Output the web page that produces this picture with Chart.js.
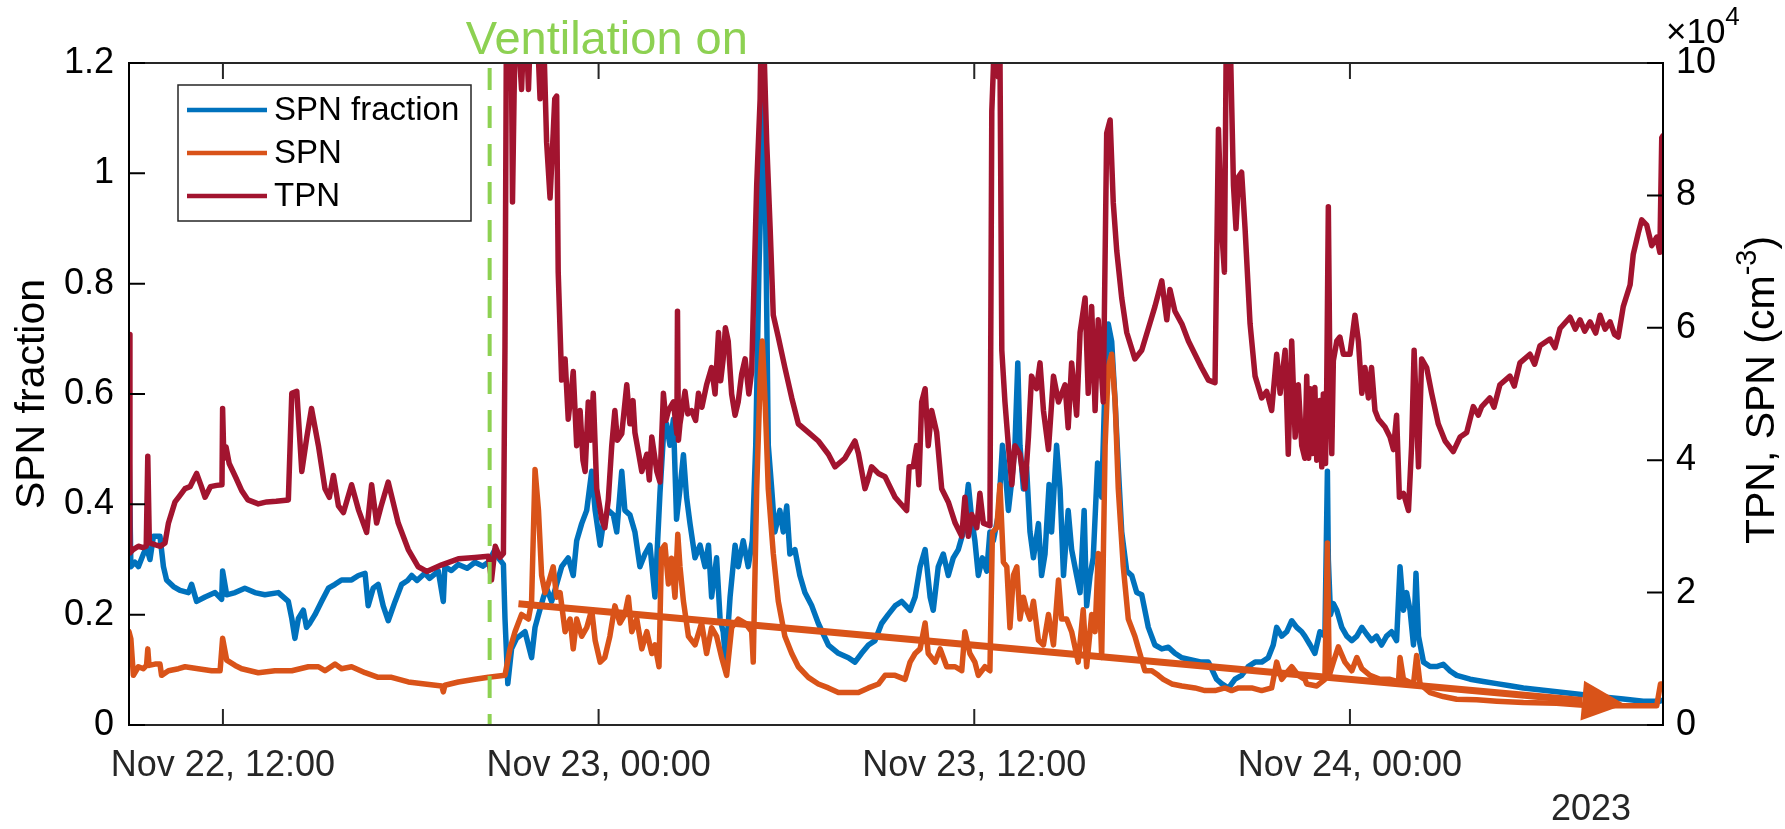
<!DOCTYPE html>
<html>
<head>
<meta charset="utf-8">
<script src="https://cdn.jsdelivr.net/npm/chart.js@4.4.1/dist/chart.umd.min.js"></script>
<style>
  html, body { margin: 0; padding: 0; background: #fff; }
  #wrap { width: 1785px; height: 829px; }
</style>
</head>
<body>
<div id="wrap"><canvas id="grafico" width="1785" height="829"></canvas></div>
<script>
// hours counted from Nov 22, 00:00
var xMin = 9, xMax = 58;
var tickHours = [12, 24, 36, 48];
var tickLabels = ['Nov 22, 12:00', 'Nov 23, 00:00', 'Nov 23, 12:00', 'Nov 24, 00:00'];
var yearLabel = '2023';
var ventHour = 20.52;
var ventLabel = 'Ventilation on';
// trend arrow, [hour, TPN/SPN in 1e4 cm-3]
var arrowStart = [21.44, 1.83];
var arrowEnd = [56.79, 0.31];

// SPN fraction (left axis)
var spnFraction = [
  [9.0, 0.507], [9.06, 0.287], [9.19, 0.295], [9.3, 0.287], [9.46, 0.31], [9.56, 0.322], [9.67, 0.3],
  [9.78, 0.342], [9.99, 0.342], [10.1, 0.287], [10.2, 0.263], [10.42, 0.251], [10.63, 0.244], [10.9, 0.24],
  [11.0, 0.255], [11.16, 0.224], [11.43, 0.232], [11.75, 0.24], [11.96, 0.228], [11.99, 0.279], [12.12, 0.236],
  [12.39, 0.24], [12.7, 0.248], [13.02, 0.24], [13.34, 0.236], [13.77, 0.24], [14.09, 0.224], [14.2, 0.193],
  [14.3, 0.157], [14.41, 0.193], [14.57, 0.208], [14.67, 0.177], [14.78, 0.185], [14.94, 0.2], [15.15, 0.224],
  [15.37, 0.248], [15.58, 0.255], [15.79, 0.263], [16.11, 0.263], [16.33, 0.271], [16.54, 0.275], [16.64, 0.216],
  [16.8, 0.248], [16.96, 0.255], [17.12, 0.216], [17.28, 0.189], [17.5, 0.224], [17.71, 0.255], [17.9, 0.262],
  [18.03, 0.271], [18.2, 0.262], [18.45, 0.275], [18.6, 0.266], [18.88, 0.279], [19.04, 0.224], [19.09, 0.287],
  [19.3, 0.28], [19.52, 0.291], [19.8, 0.284], [20.05, 0.295], [20.3, 0.288], [20.48, 0.295], [20.69, 0.318],
  [20.8, 0.303], [20.96, 0.291], [21.01, 0.193], [21.1, 0.075], [21.22, 0.138], [21.38, 0.157], [21.65, 0.169],
  [21.86, 0.122], [21.97, 0.177], [22.08, 0.2], [22.24, 0.232], [22.34, 0.248], [22.5, 0.224], [22.66, 0.255],
  [22.82, 0.287], [23.03, 0.303], [23.19, 0.271], [23.3, 0.334], [23.46, 0.365], [23.62, 0.389], [23.78, 0.46],
  [23.89, 0.389], [24.05, 0.326], [24.15, 0.365], [24.31, 0.389], [24.47, 0.381], [24.58, 0.35], [24.74, 0.46],
  [24.84, 0.389], [25.0, 0.381], [25.16, 0.35], [25.32, 0.287], [25.48, 0.31], [25.64, 0.326], [25.8, 0.232],
  [25.96, 0.42], [26.07, 0.523], [26.17, 0.546], [26.28, 0.507], [26.39, 0.554], [26.49, 0.373], [26.6, 0.428],
  [26.71, 0.49], [26.81, 0.413], [26.92, 0.365], [27.08, 0.303], [27.24, 0.326], [27.4, 0.287], [27.51, 0.326],
  [27.61, 0.232], [27.77, 0.303], [27.88, 0.193], [27.98, 0.169], [28.06, 0.114], [28.2, 0.232], [28.36, 0.326],
  [28.46, 0.287], [28.62, 0.334], [28.78, 0.287], [28.91, 0.334], [29.02, 0.507], [29.12, 0.821], [29.23, 1.057],
  [29.28, 1.152], [29.34, 0.9], [29.42, 0.507], [29.53, 0.428], [29.63, 0.35], [29.79, 0.389], [29.9, 0.35],
  [30.01, 0.397], [30.11, 0.31], [30.27, 0.318], [30.43, 0.271], [30.59, 0.24], [30.81, 0.216], [31.02, 0.184],
  [31.34, 0.145], [31.66, 0.13], [31.98, 0.122], [32.19, 0.114], [32.4, 0.13], [32.62, 0.145], [32.83, 0.153],
  [33.04, 0.184], [33.25, 0.2], [33.47, 0.216], [33.68, 0.224], [33.95, 0.208], [34.11, 0.232], [34.27, 0.287],
  [34.43, 0.318], [34.59, 0.232], [34.69, 0.208], [34.85, 0.287], [35.01, 0.31], [35.17, 0.271], [35.33, 0.303],
  [35.49, 0.318], [35.65, 0.35], [35.81, 0.436], [35.92, 0.373], [36.02, 0.334], [36.13, 0.271], [36.26, 0.303],
  [36.4, 0.279], [36.5, 0.35], [36.61, 0.334], [36.77, 0.381], [36.9, 0.507], [36.98, 0.468], [37.09, 0.389],
  [37.2, 0.444], [37.3, 0.507], [37.39, 0.656], [37.46, 0.507], [37.57, 0.428], [37.67, 0.468], [37.78, 0.35],
  [37.89, 0.303], [38.05, 0.365], [38.15, 0.271], [38.26, 0.31], [38.39, 0.436], [38.47, 0.35], [38.63, 0.507],
  [38.74, 0.428], [38.85, 0.271], [39.0, 0.389], [39.11, 0.318], [39.27, 0.271], [39.38, 0.24], [39.51, 0.389],
  [39.59, 0.216], [39.7, 0.271], [39.8, 0.303], [39.94, 0.475], [40.07, 0.413], [40.18, 0.625], [40.28, 0.727],
  [40.39, 0.695], [40.5, 0.585], [40.6, 0.468], [40.71, 0.35], [40.87, 0.279], [41.03, 0.271], [41.19, 0.24],
  [41.35, 0.236], [41.56, 0.177], [41.77, 0.145], [41.99, 0.138], [42.2, 0.141], [42.41, 0.13], [42.63, 0.122],
  [42.94, 0.118], [43.26, 0.114], [43.48, 0.114], [43.74, 0.083], [43.9, 0.075], [44.12, 0.067], [44.33, 0.083],
  [44.54, 0.09], [44.75, 0.106], [44.97, 0.114], [45.18, 0.114], [45.39, 0.122], [45.55, 0.145], [45.66, 0.177],
  [45.82, 0.161], [45.98, 0.169], [46.14, 0.189], [46.3, 0.177], [46.46, 0.169], [46.56, 0.161], [46.73, 0.145],
  [46.88, 0.13], [47.04, 0.169], [47.2, 0.161], [47.28, 0.46], [47.31, 0.3], [47.38, 0.2], [47.47, 0.22],
  [47.58, 0.208], [47.74, 0.177], [47.9, 0.161], [48.06, 0.153], [48.22, 0.161], [48.38, 0.177], [48.53, 0.165],
  [48.69, 0.153], [48.85, 0.161], [49.01, 0.145], [49.17, 0.161], [49.33, 0.169], [49.49, 0.153], [49.6, 0.287],
  [49.71, 0.208], [49.81, 0.24], [49.92, 0.208], [50.03, 0.145], [50.11, 0.275], [50.19, 0.161], [50.35, 0.114],
  [50.56, 0.106], [50.77, 0.106], [50.98, 0.11], [51.2, 0.098], [51.41, 0.09], [51.84, 0.083], [52.26, 0.079],
  [52.69, 0.075], [53.11, 0.071], [53.54, 0.067], [54.18, 0.063], [54.82, 0.059], [55.46, 0.055], [56.09, 0.051],
  [56.73, 0.047], [57.37, 0.043], [57.9, 0.043], [58.0, 0.045]
];

// SPN (right axis, 1e4 cm-3)
var spn = [
  [9.0, 1.41], [9.06, 1.3], [9.14, 0.75], [9.3, 0.88], [9.46, 0.85], [9.56, 0.9], [9.6, 1.15], [9.64, 0.9],
  [9.83, 0.92], [9.99, 0.92], [10.04, 0.75], [10.26, 0.82], [10.58, 0.85], [10.79, 0.88], [11.21, 0.85],
  [11.64, 0.82], [11.91, 0.82], [11.99, 1.31], [12.12, 0.98], [12.39, 0.9], [12.6, 0.85], [13.13, 0.79],
  [13.66, 0.82], [14.2, 0.82], [14.73, 0.88], [15.05, 0.88], [15.26, 0.82], [15.58, 0.92], [15.79, 0.85],
  [16.11, 0.88], [16.54, 0.79], [16.96, 0.72], [17.39, 0.72], [17.92, 0.65], [18.45, 0.62], [18.99, 0.59],
  [19.04, 0.5], [19.09, 0.6], [19.52, 0.65], [20.05, 0.69], [20.48, 0.72], [21.01, 0.75], [21.17, 1.15],
  [21.33, 1.41], [21.54, 1.67], [21.76, 1.6], [21.86, 1.87], [21.97, 3.86], [22.08, 3.24], [22.18, 2.26],
  [22.29, 2.0], [22.39, 2.13], [22.55, 2.39], [22.66, 1.93], [22.77, 2.0], [22.93, 1.41], [23.09, 1.6],
  [23.19, 1.15], [23.3, 1.6], [23.46, 1.34], [23.62, 1.47], [23.78, 1.74], [23.89, 1.28], [24.05, 0.95],
  [24.2, 1.02], [24.36, 1.34], [24.52, 1.8], [24.68, 1.54], [24.84, 1.67], [24.95, 1.93], [25.06, 1.41],
  [25.22, 1.6], [25.38, 1.15], [25.54, 1.41], [25.7, 1.08], [25.8, 1.21], [25.93, 0.88], [26.01, 2.65],
  [26.12, 2.72], [26.23, 2.13], [26.33, 2.52], [26.44, 1.93], [26.53, 2.88], [26.6, 2.39], [26.71, 1.87],
  [26.87, 1.34], [27.08, 1.21], [27.29, 1.54], [27.45, 1.08], [27.61, 1.47], [27.77, 1.34], [27.93, 1.02],
  [28.09, 0.75], [28.25, 1.47], [28.46, 1.6], [28.68, 1.54], [28.89, 1.41], [28.94, 0.95], [29.05, 3.57],
  [29.16, 5.21], [29.23, 5.8], [29.32, 4.88], [29.42, 3.57], [29.58, 2.59], [29.74, 1.87], [29.95, 1.34],
  [30.17, 1.08], [30.38, 0.88], [30.7, 0.72], [31.02, 0.62], [31.34, 0.56], [31.66, 0.49], [31.98, 0.49],
  [32.3, 0.49], [32.62, 0.56], [32.94, 0.62], [33.15, 0.75], [33.47, 0.75], [33.79, 0.69], [33.95, 0.95],
  [34.11, 1.08], [34.27, 1.15], [34.43, 1.54], [34.53, 1.08], [34.75, 0.95], [34.91, 1.15], [35.12, 0.88],
  [35.39, 0.88], [35.6, 0.82], [35.7, 1.41], [35.86, 1.08], [36.02, 0.95], [36.13, 0.75], [36.34, 0.88],
  [36.5, 0.82], [36.58, 2.91], [36.72, 2.98], [36.82, 3.63], [36.93, 2.46], [37.04, 2.39], [37.14, 1.47],
  [37.25, 2.26], [37.36, 2.39], [37.46, 1.6], [37.57, 1.93], [37.67, 1.74], [37.78, 1.6], [37.89, 1.87],
  [38.05, 1.28], [38.21, 1.21], [38.37, 1.67], [38.53, 1.21], [38.69, 2.19], [38.79, 1.6], [38.95, 1.6],
  [39.11, 1.41], [39.32, 0.95], [39.48, 1.74], [39.59, 0.88], [39.75, 1.67], [39.86, 1.41], [39.96, 2.59],
  [40.07, 1.02], [40.18, 4.22], [40.28, 5.4], [40.39, 5.6], [40.5, 4.88], [40.6, 3.57], [40.76, 2.39],
  [40.92, 1.6], [41.13, 1.34], [41.29, 1.08], [41.45, 0.82], [41.67, 0.82], [41.88, 0.75], [42.04, 0.69],
  [42.31, 0.62], [42.63, 0.59], [43.05, 0.56], [43.37, 0.52], [43.69, 0.52], [44.01, 0.56], [44.22, 0.52],
  [44.44, 0.56], [44.86, 0.56], [45.18, 0.52], [45.5, 0.56], [45.66, 0.95], [45.82, 0.69], [46.03, 0.82],
  [46.14, 0.88], [46.35, 0.75], [46.56, 0.69], [46.62, 0.62], [46.94, 0.59], [47.2, 0.69], [47.28, 2.75],
  [47.34, 0.75], [47.47, 0.95], [47.63, 1.18], [47.84, 0.95], [48.06, 0.82], [48.22, 1.02], [48.38, 0.85],
  [48.64, 0.75], [48.96, 0.69], [49.28, 0.69], [49.55, 0.65], [49.6, 1.02], [49.71, 0.69], [50.03, 0.62],
  [50.13, 1.05], [50.24, 0.62], [50.56, 0.49], [50.98, 0.43], [51.41, 0.39], [52.05, 0.38], [52.69, 0.36],
  [53.54, 0.34], [54.6, 0.33], [55.67, 0.29], [56.73, 0.29], [57.8, 0.29], [57.92, 0.62], [58.0, 0.62]
];

// TPN (right axis, 1e4 cm-3)
var tpn = [
  [9.0, 5.9], [9.03, 2.6], [9.13, 2.65], [9.3, 2.7], [9.45, 2.68], [9.55, 2.7], [9.6, 4.06], [9.65, 2.75],
  [9.85, 2.72], [10.0, 2.7], [10.15, 2.75], [10.26, 3.05], [10.47, 3.37], [10.6, 3.45], [10.79, 3.57],
  [10.95, 3.6], [11.16, 3.8], [11.3, 3.62], [11.43, 3.44], [11.6, 3.6], [11.8, 3.62], [11.97, 3.63],
  [11.99, 4.78], [12.03, 4.03], [12.1, 4.2], [12.2, 3.95], [12.4, 3.75], [12.6, 3.54], [12.8, 3.4],
  [13.13, 3.34], [13.4, 3.37], [13.7, 3.38], [14.09, 3.4], [14.2, 5.01], [14.36, 5.04], [14.52, 3.83],
  [14.68, 4.35], [14.83, 4.78], [15.05, 4.22], [15.26, 3.57], [15.4, 3.44], [15.53, 3.77], [15.69, 3.31],
  [15.85, 3.21], [16.11, 3.63], [16.33, 3.25], [16.59, 2.91], [16.75, 3.63], [16.91, 3.05], [17.05, 3.3],
  [17.28, 3.67], [17.6, 3.05], [17.92, 2.65], [18.24, 2.39], [18.51, 2.32], [18.99, 2.42], [19.52, 2.51],
  [20.05, 2.53], [20.48, 2.55], [20.58, 2.19], [20.7, 2.7], [20.85, 2.53], [20.96, 2.59], [21.01, 5.73],
  [21.06, 11], [21.2, 11], [21.25, 7.9], [21.3, 9.5], [21.36, 11], [21.54, 9.6], [21.65, 11], [21.76, 9.6],
  [21.86, 11], [22.0, 11], [22.13, 9.46], [22.24, 10.5], [22.34, 8.8], [22.45, 7.96], [22.55, 8.94],
  [22.6, 9.46], [22.66, 9.5], [22.71, 6.84], [22.82, 5.21], [22.93, 5.53], [23.03, 4.62], [23.12, 5.0],
  [23.19, 5.34], [23.3, 4.22], [23.41, 4.75], [23.5, 4.0], [23.57, 3.83], [23.67, 4.88], [23.75, 4.3],
  [23.83, 5.01], [23.94, 3.57], [24.1, 3.11], [24.2, 2.98], [24.31, 3.4], [24.42, 4.22], [24.52, 4.75],
  [24.6, 4.3], [24.74, 4.4], [24.9, 5.14], [25.0, 4.55], [25.1, 4.9], [25.16, 4.42], [25.28, 4.1],
  [25.38, 3.83], [25.54, 4.09], [25.62, 3.7], [25.7, 4.35], [25.86, 3.83], [25.96, 3.67], [26.07, 5.01],
  [26.15, 4.6], [26.23, 4.75], [26.39, 4.88], [26.5, 4.4], [26.52, 6.25], [26.55, 4.3], [26.6, 4.55],
  [26.76, 5.04], [26.85, 4.7], [26.97, 4.75], [27.1, 4.6], [27.19, 5.01], [27.3, 4.8], [27.45, 5.14],
  [27.61, 5.4], [27.72, 5.0], [27.83, 5.93], [27.9, 5.2], [27.98, 5.53], [28.05, 6.0], [28.14, 5.8],
  [28.25, 5.0], [28.36, 4.68], [28.46, 4.88], [28.57, 5.3], [28.68, 5.53], [28.8, 5.0], [28.89, 5.34],
  [29.05, 8.15], [29.16, 9.46], [29.21, 11], [29.26, 10.6], [29.37, 8.8], [29.48, 7.5], [29.58, 6.19],
  [29.74, 5.86], [29.95, 5.4], [30.17, 4.94], [30.38, 4.55], [30.7, 4.42], [31.02, 4.29], [31.34, 4.09],
  [31.55, 3.9], [31.87, 4.03], [32.19, 4.29], [32.3, 4.1], [32.51, 3.57], [32.6, 3.7], [32.72, 3.9],
  [32.94, 3.8], [33.15, 3.75], [33.47, 3.44], [33.84, 3.24], [33.92, 3.9], [34.05, 3.9], [34.16, 4.22],
  [34.23, 3.63], [34.32, 4.88], [34.43, 5.08], [34.53, 4.22], [34.64, 4.75], [34.8, 4.42], [34.96, 3.57],
  [35.17, 3.37], [35.39, 3.05], [35.6, 2.85], [35.7, 3.44], [35.81, 2.85], [35.92, 3.18], [36.08, 2.98],
  [36.18, 3.5], [36.29, 3.05], [36.5, 3.01], [36.56, 9.27], [36.61, 9.92], [36.66, 11], [36.77, 9.79],
  [36.82, 10.2], [36.88, 5.66], [36.98, 4.88], [37.09, 4.22], [37.2, 3.63], [37.3, 4.22], [37.46, 4.09],
  [37.62, 3.57], [37.73, 4.35], [37.83, 5.27], [37.99, 5.08], [38.1, 5.47], [38.21, 4.75], [38.37, 4.16],
  [38.53, 5.27], [38.69, 4.88], [38.9, 5.14], [39.0, 4.49], [39.11, 5.47], [39.27, 4.68], [39.38, 5.93],
  [39.54, 6.45], [39.64, 5.01], [39.75, 6.32], [39.86, 4.75], [39.96, 6.12], [40.12, 4.88], [40.23, 8.94],
  [40.34, 9.14], [40.44, 7.89], [40.55, 7.17], [40.71, 6.45], [40.87, 5.93], [41.13, 5.53], [41.35, 5.66],
  [41.56, 5.99], [41.77, 6.32], [41.99, 6.71], [42.15, 6.12], [42.25, 6.58], [42.41, 6.25], [42.63, 6.06],
  [42.84, 5.8], [43.05, 5.6], [43.26, 5.4], [43.48, 5.21], [43.69, 5.17], [43.8, 9.0], [43.9, 7.5],
  [43.99, 6.84], [44.06, 11], [44.17, 10.5], [44.28, 8.15], [44.36, 7.5], [44.44, 8.28], [44.54, 8.35],
  [44.65, 7.5], [44.81, 6.06], [44.97, 5.27], [45.18, 4.94], [45.34, 5.04], [45.5, 4.75], [45.66, 5.6],
  [45.77, 5.01], [45.93, 5.66], [46.03, 4.09], [46.14, 5.8], [46.25, 4.35], [46.35, 5.14], [46.46, 4.22],
  [46.56, 4.03], [46.62, 5.27], [46.68, 4.03], [46.73, 5.08], [46.8, 4.1], [46.88, 5.1], [46.94, 4.0],
  [47.04, 4.9], [47.1, 3.9], [47.15, 5.0], [47.22, 3.95], [47.26, 5.2], [47.31, 7.83], [47.36, 5.27],
  [47.42, 4.1], [47.47, 5.5], [47.58, 5.8], [47.68, 5.86], [47.79, 5.6], [48.0, 5.6], [48.16, 6.19],
  [48.27, 5.8], [48.38, 5.01], [48.48, 5.4], [48.59, 4.94], [48.69, 5.4], [48.8, 4.75], [48.91, 4.62],
  [49.12, 4.5], [49.28, 4.35], [49.39, 4.16], [49.49, 4.68], [49.58, 3.44], [49.71, 3.5], [49.87, 3.24],
  [49.97, 4.22], [50.05, 5.66], [50.19, 3.9], [50.29, 5.53], [50.45, 5.4], [50.61, 5.01], [50.82, 4.55],
  [51.04, 4.29], [51.3, 4.13], [51.52, 4.35], [51.73, 4.42], [51.94, 4.81], [52.1, 4.68], [52.21, 4.81],
  [52.47, 4.94], [52.6, 4.8], [52.79, 5.14], [53.11, 5.27], [53.25, 5.12], [53.43, 5.47], [53.75, 5.6],
  [53.9, 5.45], [54.07, 5.73], [54.39, 5.83], [54.55, 5.7], [54.71, 5.99], [55.03, 6.16], [55.2, 5.98],
  [55.35, 6.12], [55.5, 5.95], [55.67, 6.09], [55.85, 5.92], [55.99, 6.19], [56.15, 5.98], [56.31, 6.09],
  [56.45, 5.9], [56.57, 5.86], [56.73, 6.32], [56.95, 6.65], [57.05, 7.11], [57.21, 7.43], [57.32, 7.63],
  [57.48, 7.55], [57.64, 7.24], [57.8, 7.37], [57.9, 7.14], [57.96, 8.87], [58.0, 8.9]
];

var cores = { fraction: '#0072BD', spn: '#D95319', tpn: '#A2142F', vent: '#8DD152' };
var fonte = '"Liberation Sans", Arial, Helvetica, sans-serif';

function pontos(lista) {
  return lista.map(function(p) { return { x: p[0], y: p[1] }; });
}

var desenhos = {
  id: 'desenhos',
  afterDatasetsDraw: function(chart) {
    var ctx = chart.ctx, a = chart.chartArea;
    var x = chart.scales.x, yR = chart.scales.yR;
    ctx.save();
    ctx.beginPath();
    ctx.rect(a.left, a.top, a.right - a.left, a.bottom - a.top);
    ctx.clip();

    // trend arrow
    var x0 = x.getPixelForValue(arrowStart[0]), y0 = yR.getPixelForValue(arrowStart[1]);
    var x1 = x.getPixelForValue(arrowEnd[0]), y1 = yR.getPixelForValue(arrowEnd[1]);
    var ang = Math.atan2(y1 - y0, x1 - x0);
    var cab = 43, meia = 20;
    var bx = x1 - cab * Math.cos(ang), by = y1 - cab * Math.sin(ang);
    ctx.strokeStyle = cores.spn;
    ctx.fillStyle = cores.spn;
    ctx.lineWidth = 7;
    ctx.lineCap = 'butt';
    ctx.beginPath();
    ctx.moveTo(x0, y0);
    ctx.lineTo(bx, by);
    ctx.stroke();
    ctx.beginPath();
    ctx.moveTo(x1, y1);
    ctx.lineTo(bx + meia * Math.sin(ang), by - meia * Math.cos(ang));
    ctx.lineTo(bx - meia * Math.sin(ang), by + meia * Math.cos(ang));
    ctx.closePath();
    ctx.fill();

    // ventilation line
    var vx = x.getPixelForValue(ventHour);
    ctx.strokeStyle = cores.vent;
    ctx.lineWidth = 4;
    ctx.setLineDash([22, 16]);
    ctx.lineDashOffset = -5;
    ctx.beginPath();
    ctx.moveTo(vx, a.top);
    ctx.lineTo(vx, a.bottom);
    ctx.stroke();
    ctx.restore();
  },
  afterDraw: function(chart) {
    var ctx = chart.ctx, a = chart.chartArea;
    var x = chart.scales.x, yL = chart.scales.yL, yR = chart.scales.yR;
    ctx.save();

    // box and inward ticks
    ctx.lineWidth = 2;
    ctx.strokeStyle = '#262626';
    ctx.beginPath();
    ctx.moveTo(a.left, a.top); ctx.lineTo(a.right, a.top);
    ctx.moveTo(a.left, a.bottom); ctx.lineTo(a.right, a.bottom);
    x.ticks.forEach(function(t) {
      var px = x.getPixelForValue(t.value);
      ctx.moveTo(px, a.bottom); ctx.lineTo(px, a.bottom - 16);
      ctx.moveTo(px, a.top); ctx.lineTo(px, a.top + 16);
    });
    ctx.stroke();
    ctx.strokeStyle = '#000';
    ctx.beginPath();
    ctx.moveTo(a.left, a.top - 1); ctx.lineTo(a.left, a.bottom + 1);
    ctx.moveTo(a.right, a.top - 1); ctx.lineTo(a.right, a.bottom + 1);
    yL.ticks.forEach(function(t) {
      var py = yL.getPixelForValue(t.value);
      ctx.moveTo(a.left, py); ctx.lineTo(a.left + 16, py);
    });
    yR.ticks.forEach(function(t) {
      var py = yR.getPixelForValue(t.value);
      ctx.moveTo(a.right, py); ctx.lineTo(a.right - 16, py);
    });
    ctx.stroke();

    // legend
    var lx = 178, ly = 85, lw = 293, lh = 136;
    ctx.fillStyle = '#fff';
    ctx.fillRect(lx, ly, lw, lh);
    ctx.lineWidth = 1.5;
    ctx.strokeStyle = '#262626';
    ctx.strokeRect(lx, ly, lw, lh);
    ctx.font = '33px ' + fonte;
    ctx.textAlign = 'left';
    ctx.textBaseline = 'middle';
    var linhas = [110, 153, 196];
    chart.data.datasets.slice().sort(function(p, q) { return p.legendOrder - q.legendOrder; }).forEach(function(ds, i) {
      ctx.strokeStyle = ds.borderColor;
      ctx.lineWidth = 4.5;
      ctx.beginPath();
      ctx.moveTo(187, linhas[i]);
      ctx.lineTo(267, linhas[i]);
      ctx.stroke();
      ctx.fillStyle = '#000';
      ctx.fillText(ds.label, 274, linhas[i] + 1);
    });

    // axis titles
    ctx.fillStyle = '#000';
    ctx.font = '41px ' + fonte;
    ctx.textAlign = 'center';
    ctx.textBaseline = 'middle';
    var cy = (a.top + a.bottom) / 2;
    ctx.save();
    ctx.translate(33, cy);
    ctx.rotate(-Math.PI / 2);
    ctx.fillText('SPN fraction', 0, 0);
    ctx.restore();

    ctx.save();
    ctx.translate(1763, cy - 4);
    ctx.rotate(-Math.PI / 2);
    var t1 = 'TPN, SPN (cm', t2 = '-3', t3 = ')';
    ctx.font = '41px ' + fonte;
    var w1 = ctx.measureText(t1).width, w3 = ctx.measureText(t3).width;
    ctx.font = '29px ' + fonte;
    var w2 = ctx.measureText(t2).width;
    var sx = -(w1 + w2 + w3) / 2;
    ctx.textAlign = 'left';
    ctx.font = '41px ' + fonte;
    ctx.fillText(t1, sx, 0);
    ctx.font = '29px ' + fonte;
    ctx.fillText(t2, sx + w1, -15);
    ctx.font = '41px ' + fonte;
    ctx.fillText(t3, sx + w1 + w2, 0);
    ctx.restore();

    // exponent
    ctx.textAlign = 'left';
    ctx.textBaseline = 'alphabetic';
    ctx.font = '35px ' + fonte;
    ctx.fillText('\u00d710', a.right + 3, 43);
    var wx = ctx.measureText('\u00d710').width;
    ctx.font = '26px ' + fonte;
    ctx.fillText('4', a.right + 3 + wx, 25);

    // year
    ctx.fillStyle = '#262626';
    ctx.font = '36px ' + fonte;
    ctx.textAlign = 'center';
    ctx.textBaseline = 'middle';
    ctx.fillText(yearLabel, 1591, 810);

    // ventilation text
    ctx.fillStyle = cores.vent;
    ctx.font = '47px ' + fonte;
    ctx.textAlign = 'left';
    ctx.textBaseline = 'alphabetic';
    ctx.fillText(ventLabel, x.getPixelForValue(ventHour) - 24, 54);
    ctx.restore();
  }
};

var grafico = new Chart(document.getElementById('grafico').getContext('2d'), {
  type: 'line',
  data: {
    datasets: [{
      label: 'SPN fraction',
      data: pontos(spnFraction),
      yAxisID: 'yL',
      borderColor: cores.fraction,
      order: 3,
      legendOrder: 0
    }, {
      label: 'SPN',
      data: pontos(spn),
      yAxisID: 'yR',
      borderColor: cores.spn,
      order: 2,
      legendOrder: 1
    }, {
      label: 'TPN',
      data: pontos(tpn),
      yAxisID: 'yR',
      borderColor: cores.tpn,
      order: 1,
      legendOrder: 2
    }]
  },
  options: {
    responsive: false,
    animation: false,
    devicePixelRatio: 1,
    layout: { padding: { top: 63, left: 0, right: 0, bottom: 0 } },
    elements: {
      point: { radius: 0 },
      line: { borderWidth: 5.5, tension: 0, borderJoinStyle: 'round', borderCapStyle: 'round', fill: false }
    },
    plugins: { legend: { display: false }, tooltip: { enabled: false } },
    scales: {
      x: {
        type: 'linear',
        min: xMin,
        max: xMax,
        afterBuildTicks: function(s) {
          s.ticks = tickHours.map(function(h) { return { value: h }; });
        },
        afterFit: function(s) { s.height = 104; },
        grid: { display: false, drawTicks: false },
        border: { display: false },
        ticks: {
          autoSkip: false,
          maxRotation: 0,
          padding: 19,
          color: '#262626',
          font: { family: fonte, size: 36 },
          callback: function(v) { return tickLabels[tickHours.indexOf(v)]; }
        }
      },
      yL: {
        type: 'linear',
        position: 'left',
        min: 0,
        max: 1.2,
        afterFit: function(s) { s.width = 129; },
        grid: { display: false, drawTicks: false },
        border: { display: false },
        ticks: {
          stepSize: 0.2,
          padding: 15,
          color: '#000',
          font: { family: fonte, size: 36 },
          callback: function(v) { return String(Math.round(v * 10) / 10); }
        }
      },
      yR: {
        type: 'linear',
        position: 'right',
        min: 0,
        max: 10,
        afterFit: function(s) { s.width = 122; },
        grid: { display: false, drawTicks: false },
        border: { display: false },
        ticks: {
          stepSize: 2,
          padding: 13,
          color: '#000',
          font: { family: fonte, size: 36 },
          callback: function(v) { return String(v); }
        }
      }
    }
  },
  plugins: [desenhos]
});
</script>
</body>
</html>
